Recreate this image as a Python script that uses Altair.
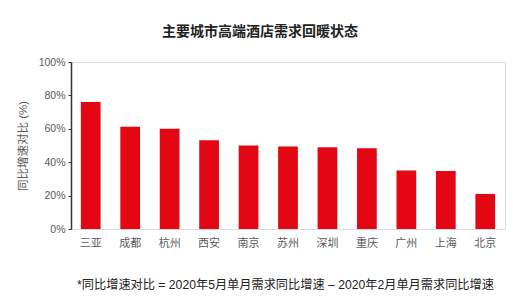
import altair as alt
import pandas as pd

cities = ["三亚", "成都", "杭州", "西安", "南京", "苏州", "深圳", "重庆", "广州", "上海", "北京"]
values = [0.76, 0.613, 0.60, 0.532, 0.50, 0.494, 0.49, 0.484, 0.35, 0.347, 0.21]
y_ticks = [0, 0.2, 0.4, 0.6, 0.8, 1.0]

title_text = "主要城市高端酒店需求回暖状态"
footer_text = "*同比增速对比 = 2020年5月单月需求同比增速 – 2020年2月单月需求同比增速"
y_title = "同比增速对比 (%)"

df = pd.DataFrame({"city": cities, "value": values})

FONT = "Liberation Sans, Noto Sans CJK SC, sans-serif"

chart = alt.Chart(df).mark_bar(color="#E30613").encode(
    x=alt.X(
        "city:N",
        sort=cities,
        scale=alt.Scale(paddingInner=0.5, paddingOuter=0.25),
        axis=alt.Axis(
            title=footer_text,
            titleFont=FONT,
            titleFontSize=12.2,
            titleFontWeight="normal",
            titleColor="#222222",
            titleX=214,
            titleAlign="center",
            titleY=55,
            titleBaseline="middle",
            labelAngle=0,
            labelFont=FONT,
            labelFontSize=11,
            labelColor="#595959",
            labelPadding=8,
            ticks=False,
            domainColor="#d9d9d9",
            domainWidth=1,
        ),
    ),
    y=alt.Y(
        "value:Q",
        scale=alt.Scale(domain=[0, 1]),
        axis=alt.Axis(
            title=y_title,
            titleFont=FONT,
            titleFontSize=11.5,
            titleFontWeight="normal",
            titleColor="#595959",
            titlePadding=10,
            values=y_ticks,
            format=".0%",
            labelFont=FONT,
            labelFontSize=10.5,
            labelColor="#595959",
            labelPadding=3,
            grid=False,
            ticks=True,
            tickSize=3,
            tickColor="#333333",
            domainColor="#333333",
            domainWidth=1.5,
        ),
    ),
).properties(
    width=434,
    height=167,
    title=alt.TitleParams(
        text=title_text,
        font=FONT,
        fontSize=14,
        fontWeight="bold",
        color="#222222",
        anchor="middle",
        dx=-28,
        offset=18,
    ),
    autosize=alt.AutoSizeParams(type="none"),
    padding={"left": 71, "top": 62, "right": 8, "bottom": 70},
).configure_view(stroke=None).configure(background="white")

chart.save("out.html", embed_options={"renderer": "svg", "actions": False})
